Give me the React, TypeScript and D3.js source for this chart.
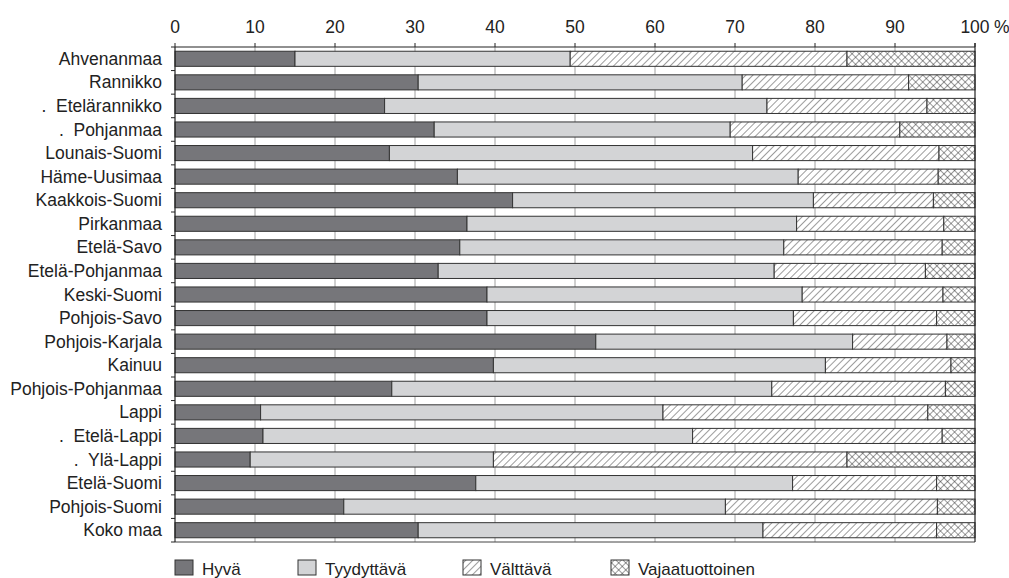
import React from "react";
import * as d3 from "d3";

const categories = [
  "Ahvenanmaa", "Rannikko", ".  Etelärannikko", ".  Pohjanmaa", "Lounais-Suomi",
  "Häme-Uusimaa", "Kaakkois-Suomi", "Pirkanmaa", "Etelä-Savo", "Etelä-Pohjanmaa",
  "Keski-Suomi", "Pohjois-Savo", "Pohjois-Karjala", "Kainuu", "Pohjois-Pohjanmaa",
  "Lappi", ".  Etelä-Lappi", ".  Ylä-Lappi", "Etelä-Suomi", "Pohjois-Suomi", "Koko maa",
];
const hyva = [15.0, 30.4, 26.2, 32.4, 26.8, 35.3, 42.2, 36.5, 35.6, 32.9, 39.0, 39.0, 52.6, 39.8, 27.1, 10.7, 11.0, 9.4, 37.6, 21.1, 30.4];
const tyydyttava = [34.4, 40.5, 47.8, 37.0, 45.4, 42.6, 37.6, 41.2, 40.5, 42.0, 39.4, 38.3, 32.1, 41.5, 47.5, 50.3, 53.7, 30.4, 39.6, 47.7, 43.1];
const valttava = [34.6, 20.8, 20.0, 21.2, 23.3, 17.5, 15.0, 18.4, 19.8, 18.9, 17.6, 17.9, 11.8, 15.7, 21.7, 33.1, 31.2, 44.2, 18.0, 26.5, 21.7];
const vajaatuottoinen = [16.0, 8.3, 6.0, 9.4, 4.5, 4.6, 5.2, 3.9, 4.1, 6.2, 4.0, 4.8, 3.5, 3.0, 3.7, 5.9, 4.1, 16.0, 4.8, 4.7, 4.8];
const seriesNames = ["Hyvä", "Tyydyttävä", "Välttävä", "Vajaatuottoinen"];
const xTicks = [0, 10, 20, 30, 40, 50, 60, 70, 80, 90, 100];

const fills = ["#76767a", "#d3d4d6", "url(#diag)", "url(#cross)"];
const FONT = "'Liberation Sans', Arial, sans-serif";

export default function App() {
  const left = 175, right = 975, top = 47, bottom = 542;
  const x = d3.scaleLinear().domain([0, 100]).range([left, right]);
  const y = d3.scaleBand<string>().domain(categories.map((c, i) => String(i))).range([top, bottom]).paddingInner(0.36).paddingOuter(0.18);
  const band = d3.scaleBand<string>().domain(categories.map((c, i) => String(i))).range([top, bottom]);

  const rows = categories.map((c, i) => ({
    hyva: hyva[i], tyydyttava: tyydyttava[i], valttava: valttava[i], vajaa: vajaatuottoinen[i],
  }));
  const stack = d3.stack<any>().keys(["hyva", "tyydyttava", "valttava", "vajaa"]);
  const stacked = stack(rows);

  const legendX = [175, 298, 463, 611];

  return (
    <svg width={1009} height={578} style={{ position: "absolute", left: 0, top: 0 }} fontFamily={FONT}>
      <defs>
        <pattern id="diag" patternUnits="userSpaceOnUse" width={5} height={5} patternTransform="rotate(45)">
          <rect width={5} height={5} fill="#fff" />
          <line x1={0} y1={0} x2={0} y2={5} stroke="#222" strokeWidth={0.9} />
        </pattern>
        <pattern id="cross" patternUnits="userSpaceOnUse" width={5} height={5} patternTransform="rotate(45)">
          <rect width={5} height={5} fill="#fff" />
          <line x1={0} y1={0} x2={0} y2={5} stroke="#222" strokeWidth={0.9} />
          <line x1={0} y1={0} x2={5} y2={0} stroke="#222" strokeWidth={0.9} />
        </pattern>
      </defs>
      <rect width={1009} height={578} fill="#fff" />
      {/* grid */}
      {xTicks.slice(1, -1).map((t) => (
        <line key={t} x1={x(t)} x2={x(t)} y1={top} y2={bottom} stroke="#a0a0a0" strokeWidth={1} />
      ))}
      {/* bars */}
      {stacked.map((s, si) =>
        s.map((d, i) => (
          <rect key={si + "-" + i} x={x(d[0])} y={y(String(i))} width={x(d[1]) - x(d[0])} height={y.bandwidth()}
            fill={fills[si]} stroke="#333" strokeWidth={1} />
        ))
      )}
      {/* axes */}
      <line x1={left} x2={right} y1={top} y2={top} stroke="#222" strokeWidth={1.2} />
      <line x1={left} x2={right} y1={bottom} y2={bottom} stroke="#444" strokeWidth={1} />
      <line x1={left} x2={left} y1={top} y2={bottom} stroke="#222" strokeWidth={1.2} />
      <line x1={right} x2={right} y1={top - 4} y2={bottom} stroke="#222" strokeWidth={1.2} />
      {xTicks.map((t) => (
        <g key={t}>
          <line x1={x(t)} x2={x(t)} y1={top - 4} y2={top} stroke="#222" strokeWidth={1} />
          <text x={x(t)} y={33} fontSize={17.5} textAnchor="middle" fill="#222">{t}</text>
        </g>
      ))}
      <text x={x(100) + 19} y={33} fontSize={17.5} fill="#222">%</text>
      {categories.map((c, i) => (
        <line key={"t" + i} x1={left - 4} x2={left} y1={band(String(i))!} y2={band(String(i))!} stroke="#222" strokeWidth={1} />
      ))}
      <line x1={left - 4} x2={left} y1={bottom} y2={bottom} stroke="#222" strokeWidth={1} />
      {categories.map((c, i) => (
        <text key={"l" + i} x={162} y={y(String(i))! + y.bandwidth() / 2 + 6} fontSize={17.5} textAnchor="end" fill="#222"
          style={{ whiteSpace: "pre" }}>{c}</text>
      ))}
      {/* legend */}
      {seriesNames.map((n, i) => (
        <g key={n}>
          <rect x={legendX[i]} y={560} width={18} height={15} fill={fills[i]} stroke="#333" strokeWidth={1} />
          <text x={legendX[i] + 27} y={575} fontSize={17} fill="#222">{n}</text>
        </g>
      ))}
    </svg>
  );
}
